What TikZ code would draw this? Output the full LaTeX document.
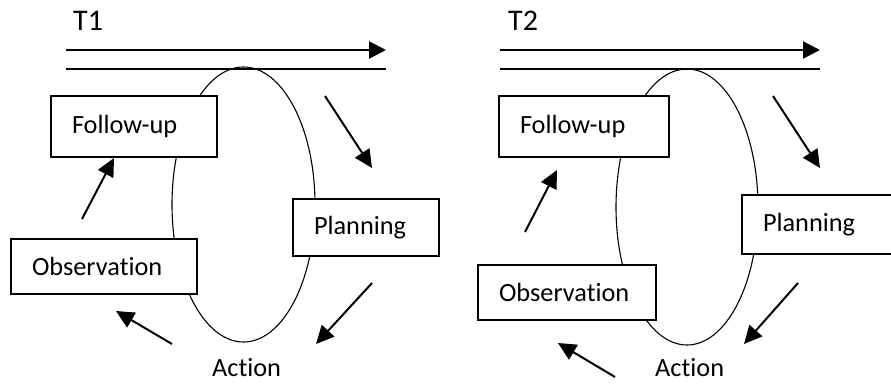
\documentclass[tikz,border=0pt]{standalone}
\usepackage{fontspec}
\setmainfont{Carlito}[Ligatures=NoCommon]
\usetikzlibrary{shapes.geometric,arrows.meta}

\begin{document}
\begin{tikzpicture}[x=1pt, y=-1pt]
        \tikzstyle{block} = [rectangle, draw, fill=white, line width=1.3pt, inner xsep=21pt, inner ysep=0pt, align=left, font=\fontsize{26.3}{30}\selectfont]
        \tikzstyle{ring} = [ellipse, draw, line width=1.1pt, inner sep=0pt]
        \tikzstyle{line} = [draw, line width=2pt, -{Triangle[length=18pt,width=17pt]}]
        \tikzstyle{time} = [draw, line width=2.2pt, -{Triangle[length=17pt,width=17pt]}]
        \tikzstyle{rule} = [draw, line width=1.2pt]
        \tikzstyle{tlabel} = [anchor=base west, inner sep=0pt, font=\fontsize{30}{34}\selectfont]
        \tikzstyle{slabel} = [anchor=base west, inner sep=0pt, font=\fontsize{26.3}{30}\selectfont]

    \clip (0,0) rectangle (891,383);

    % T1
    \node [tlabel] (t1) at (73,30) {T1};
    \coordinate (t1 start) at (66,50);
    \coordinate (t1 end) at (386,50);
    \coordinate (r1 start) at (66,69);
    \coordinate (r1 end) at (386,69);
    \path [time] (t1 start) -- (t1 end);
    \path [rule] (r1 start) -- (r1 end);

    \node [ring, minimum width=143pt, minimum height=275pt] (cycle 1) at (243.5,204.5) {};
    \node [block, text width=124pt, minimum height=61pt] (followup 1) at (134,126.5) {Follow-up};
    \node [block, text width=104pt, minimum height=57pt] (planning 1) at (366,227.5) {Planning};
    \node [block, text width=144pt, minimum height=55pt] (observation 1) at (104,266.5) {Observation};
    \node [slabel] (action 1) at (212,376) {Action};

    \coordinate (a1 from) at (325,96);  \coordinate (a1 to) at (372,168);
    \coordinate (b1 from) at (372,283); \coordinate (b1 to) at (316,344);
    \coordinate (c1 from) at (172,344); \coordinate (c1 to) at (116,311);
    \coordinate (d1 from) at (82,219);  \coordinate (d1 to) at (114,158);
    \path [line] (a1 from) -- (a1 to);
    \path [line] (b1 from) -- (b1 to);
    \path [line] (c1 from) -- (c1 to);
    \path [line] (d1 from) -- (d1 to);

    % T2
    \node [tlabel] (t2) at (508,30) {T2};
    \coordinate (t2 start) at (500,50);
    \coordinate (t2 end) at (820,50);
    \coordinate (r2 start) at (500,69);
    \coordinate (r2 end) at (820,69);
    \path [time] (t2 start) -- (t2 end);
    \path [rule] (r2 start) -- (r2 end);

    \node [ring, minimum width=142pt, minimum height=276pt] (cycle 2) at (687,207) {};
    \node [block, text width=128pt, minimum height=61pt] (followup 2) at (584,126.5) {Follow-up};
    \node [block, text width=118pt, minimum height=59pt] (planning 2) at (822,224.5) {Planning};
    \node [block, text width=136pt, minimum height=55pt] (observation 2) at (567,292.5) {Observation};
    \node [slabel] (action 2) at (655,376) {Action};

    \coordinate (a2 from) at (773,96);  \coordinate (a2 to) at (820,168);
    \coordinate (b2 from) at (798,283); \coordinate (b2 to) at (744,344);
    \coordinate (c2 from) at (615,377); \coordinate (c2 to) at (558,343);
    \coordinate (d2 from) at (525,232); \coordinate (d2 to) at (557,170);
    \path [line] (a2 from) -- (a2 to);
    \path [line] (b2 from) -- (b2 to);
    \path [line] (c2 from) -- (c2 to);
    \path [line] (d2 from) -- (d2 to);
\end{tikzpicture}
\end{document}
